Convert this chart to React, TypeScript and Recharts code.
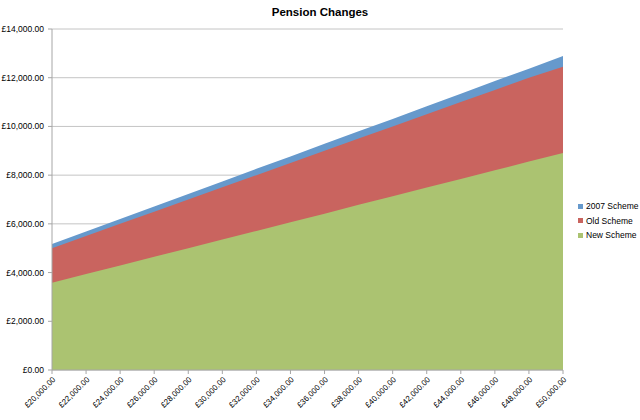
import { Area, AreaChart, CartesianGrid, Legend, XAxis, YAxis } from "recharts";

const salaries = [
  20000, 22000, 24000, 26000, 28000, 30000, 32000, 34000,
  36000, 38000, 40000, 42000, 44000, 46000, 48000, 50000,
];
const scheme2007 = [
  5170, 5690, 6200, 6710, 7230, 7740, 8260, 8770,
  9290, 9800, 10310, 10830, 11340, 11860, 12370, 12890,
];
const oldScheme = [
  5000, 5500, 6000, 6500, 7000, 7500, 8000, 8500,
  9000, 9500, 10000, 10500, 11000, 11500, 12000, 12450,
];
const newScheme = [
  3580, 3940, 4290, 4650, 5000, 5360, 5710, 6070,
  6420, 6780, 7130, 7490, 7840, 8200, 8560, 8910,
];
const yTicks = [0, 2000, 4000, 6000, 8000, 10000, 12000, 14000];

const series = [
  { key: "scheme2007", name: "2007 Scheme", color: "#6699cc" },
  { key: "oldScheme", name: "Old Scheme", color: "#c9645f" },
  { key: "newScheme", name: "New Scheme", color: "#abc371" },
];

const data = salaries.map((s, i) => ({
  salary: s,
  scheme2007: scheme2007[i],
  oldScheme: oldScheme[i],
  newScheme: newScheme[i],
}));

const FONT = "'Liberation Sans', Arial, sans-serif";

function money(v: number): string {
  return (
    "£" +
    v.toLocaleString("en-GB", { minimumFractionDigits: 2, maximumFractionDigits: 2 })
  );
}

function LegendBox() {
  return (
    <div style={{ fontFamily: FONT, fontSize: 8.5, color: "#000" }}>
      {series.map((s) => (
        <div key={s.key} style={{ display: "flex", alignItems: "center", height: 14.5 }}>
          <span
            style={{ width: 5, height: 5, background: s.color, marginRight: 3, display: "inline-block" }}
          />
          {s.name}
        </div>
      ))}
    </div>
  );
}

export default function App() {
  return (
    <div
      style={{ position: "absolute", left: 0, top: 0, width: 640, height: 420, background: "#fff" }}
    >
      <div
        style={{
          position: "absolute",
          top: 6,
          width: 640,
          textAlign: "center",
          fontFamily: FONT,
          fontWeight: "bold",
          fontSize: 11.5,
        }}
      >
        Pension Changes
      </div>
      <AreaChart
        width={640}
        height={420}
        data={data}
        margin={{ top: 29, right: 77, bottom: 0, left: 0 }}
      >
        <CartesianGrid vertical={false} stroke="#c4c4c4" />
        <XAxis
          dataKey="salary"
          tickFormatter={money}
          interval={0}
          height={50}
          angle={-45}
          textAnchor="end"
          stroke="#a6a6a6"
          tickSize={4}
          tickMargin={2}
          tick={{ fontSize: 8, fill: "#000", fontFamily: FONT }}
        />
        <YAxis
          domain={[0, 14000]}
          ticks={yTicks}
          tickFormatter={money}
          width={52}
          stroke="#a6a6a6"
          tickSize={4}
          tickMargin={4}
          tick={{ fontSize: 8.5, fill: "#000", fontFamily: FONT }}
        />
        <Legend
          layout="vertical"
          align="center"
          verticalAlign="middle"
          wrapperStyle={{ left: 578, top: 199, width: 62 }}
          content={() => <LegendBox />}
        />
        {series.map((s) => (
          <Area
            key={s.key}
            type="linear"
            dataKey={s.key}
            name={s.name}
            stroke="none"
            fill={s.color}
            fillOpacity={1}
            isAnimationActive={false}
          />
        ))}
      </AreaChart>
    </div>
  );
}
